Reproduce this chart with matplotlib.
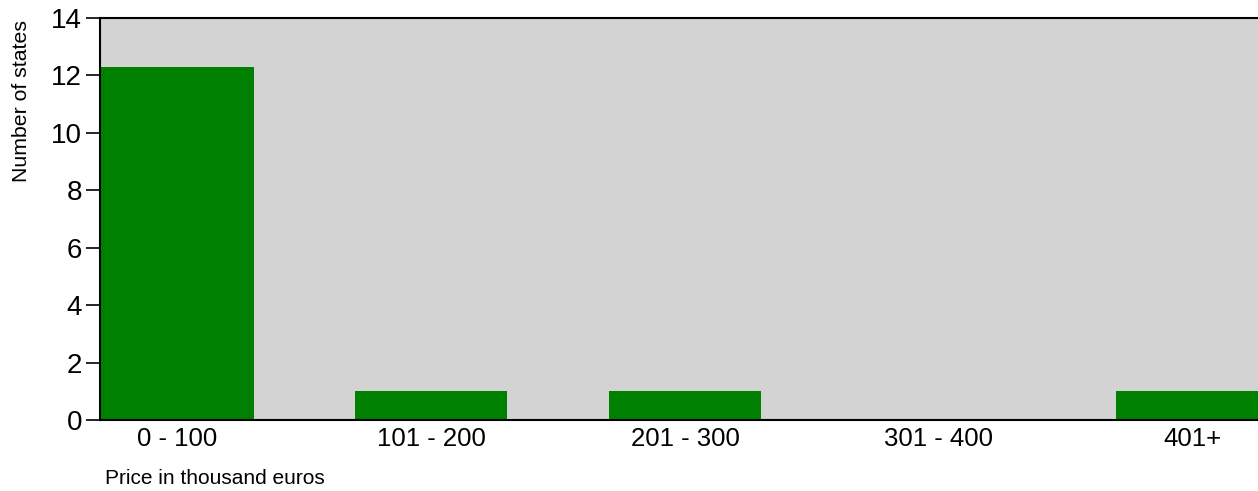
import matplotlib.pyplot as plt

# data
categories = ['0 - 100', '101 - 200', '201 - 300', '301 - 400', '401+']
counts = [12.3, 1, 1, 0, 1]
yticks = [0, 2, 4, 6, 8, 10, 12, 14]

plt.rcParams['font.family'] = ['Liberation Sans', 'DejaVu Sans']

fig = plt.figure(figsize=(12.58, 4.91), dpi=100)
# axes runs past the right edge of the figure, as in the original
ax = fig.add_axes([100 / 1258, 71 / 491, 1170 / 1258, 402 / 491])
ax.set_facecolor('#d3d3d3')

x = range(len(categories))
ax.bar(x, counts, width=0.6, color='#008000', edgecolor='none')

ax.set_xlim(-0.305, 4.305)
ax.set_ylim(0, 14)
ax.set_xticks(list(x))
ax.set_xticklabels(categories, fontsize=18.5)
ax.set_yticks(yticks)
ax.tick_params(axis='y', labelsize=20, length=10, width=1.2, pad=3)
ax.tick_params(axis='x', length=0, pad=5)

for s in ['left', 'bottom', 'top']:
    ax.spines[s].set_linewidth(1.5)
ax.spines['right'].set_visible(False)

fig.text(22 / 1258, 1 - 101 / 491, 'Number of states', rotation=90,
         ha='center', va='center', fontsize=15.3)
fig.text(105 / 1258, 1 - 478 / 491, 'Price in thousand euros',
         ha='left', va='center', fontsize=15)

fig.savefig('out.png', dpi=100)
